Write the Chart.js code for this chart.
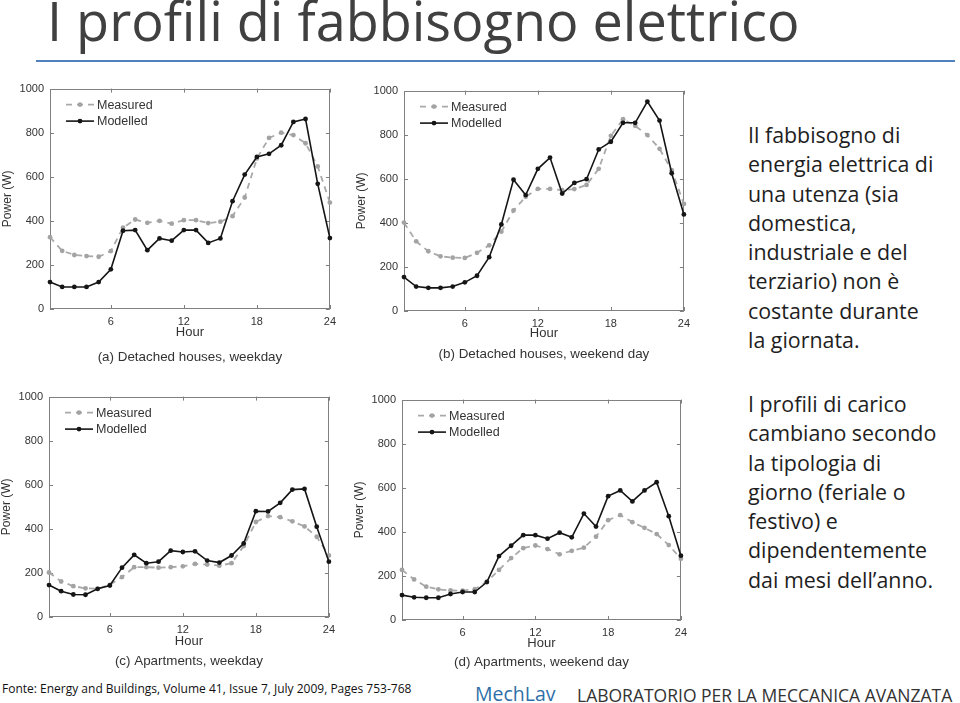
<!DOCTYPE html>
<html lang="it">
<head>
<meta charset="utf-8">
<title>I profili di fabbisogno elettrico</title>
<script src="https://cdn.jsdelivr.net/npm/chart.js@4.4.1/dist/chart.umd.min.js"></script>
<style>
  html, body { margin: 0; padding: 0; background: #fff; }
  body { width: 960px; height: 703px; position: relative; overflow: hidden; font-family: "Open Sans", Lato, sans-serif; font-variant-ligatures: none; }
  .title { position: absolute; left: 47px; top: -12px; font-size: 54px; line-height: 64px; color: #404040; white-space: nowrap; }
  .rule { position: absolute; left: 36px; top: 60px; width: 919px; height: 2px; background: #4f81bd; }
  .side { position: absolute; left: 748px; font-size: 21.4px; line-height: 29.3px; color: #1e1e1e; white-space: nowrap; }
  .fonte { position: absolute; left: 2px; top: 681px; font-size: 12px; line-height: 16px; color: #111; white-space: nowrap; }
  .mech { position: absolute; left: 475px; top: 682px; font-size: 19.5px; line-height: 24px; color: #2f6fa8; }
  .lab { position: absolute; left: 577px; top: 684.5px; font-size: 17.5px; line-height: 21px; color: #333; white-space: nowrap; }
  canvas { position: absolute; }
</style>
</head>
<body>
<div class="title">I profili di fabbisogno elettrico</div>
<div class="rule"></div>

<canvas id="chart-a"></canvas>
<canvas id="chart-b"></canvas>
<canvas id="chart-c"></canvas>
<canvas id="chart-d"></canvas>

<div class="side" style="top:120px">Il fabbisogno di<br>energia elettrica di<br>una utenza (sia<br>domestica,<br>industriale e del<br>terziario) non è<br>costante durante<br>la giornata.</div>
<div class="side" style="top:389px">I profili di carico<br>cambiano secondo<br>la tipologia di<br>giorno (feriale o<br>festivo) e<br>dipendentemente<br>dai mesi dell’anno.</div>

<div class="fonte">Fonte: Energy and Buildings, Volume 41, Issue 7, July 2009, Pages 753-768</div>
<div class="mech">MechLav</div>
<div class="lab">LABORATORIO PER LA MECCANICA AVANZATA</div>

<script>
// hours of the day and axis ticks
const HOURS = [1, 2, 3, 4, 5, 6, 7, 8, 9, 10, 11, 12, 13, 14, 15, 16, 17, 18, 19, 20, 21, 22, 23, 24];
const X_TICKS = [6, 12, 18, 24];
const Y_TICKS = [0, 200, 400, 600, 800, 1000];
const SERIES_NAMES = ['Measured', 'Modelled'];

// (a) Detached houses, weekday
const measuredA = [326, 264, 245, 240, 237, 263, 369, 406, 391, 400, 387, 403, 403, 390, 396, 421, 506, 683, 776, 800, 789, 752, 647, 483];
const modelledA = [122, 100, 100, 100, 122, 180, 355, 358, 267, 320, 310, 358, 358, 300, 320, 489, 610, 690, 704, 743, 849, 862, 568, 322];
// (b) Detached houses, weekend day
const measuredB = [401, 316, 271, 248, 242, 241, 264, 298, 360, 456, 518, 554, 554, 548, 553, 572, 645, 795, 870, 840, 798, 736, 639, 486];
const modelledB = [154, 111, 105, 105, 111, 130, 160, 244, 393, 596, 526, 645, 696, 533, 581, 598, 733, 768, 854, 854, 950, 864, 625, 438];
// (c) Apartments, weekday
const measuredC = [202, 161, 140, 130, 128, 146, 181, 226, 226, 224, 226, 230, 241, 238, 233, 244, 322, 431, 458, 453, 434, 411, 364, 279];
const modelledC = [145, 117, 102, 101, 128, 143, 224, 282, 244, 251, 301, 295, 298, 256, 247, 279, 334, 480, 479, 518, 578, 581, 410, 251];
// (d) Apartments, weekend day
const measuredD = [227, 184, 151, 139, 134, 133, 140, 174, 227, 281, 326, 338, 322, 298, 314, 328, 378, 453, 476, 444, 418, 390, 340, 278];
const modelledD = [113, 103, 101, 101, 118, 127, 127, 172, 290, 337, 385, 385, 369, 396, 375, 483, 424, 562, 588, 538, 588, 625, 471, 292];

const CAPTIONS = [
    '(a) Detached houses, weekday',
    '(b) Detached houses, weekend day',
    '(c) Apartments, weekday',
    '(d) Apartments, weekend day'
];

Chart.defaults.font.family = '"Liberation Sans", Arial, sans-serif';
Chart.defaults.color = '#333';

const CAPTION_SPACE = 18;

// box with inward ticks, legend inside the plot and caption under it (matlab style)
const framePlugin = {
    id: 'frame',
    beforeDatasetsDraw(chart) {
        const { ctx, chartArea: a, scales: { x, y } } = chart;
        const t = 4;
        ctx.save();
        ctx.strokeStyle = '#808080';
        ctx.lineWidth = 1;
        ctx.strokeRect(Math.round(a.left) + 0.5, Math.round(a.top) + 0.5, Math.round(a.width) - 1, Math.round(a.height) - 1);
        ctx.beginPath();
        X_TICKS.forEach(v => {
            const px = Math.round(x.getPixelForValue(v)) + 0.5;
            ctx.moveTo(px, a.bottom); ctx.lineTo(px, a.bottom - t);
            ctx.moveTo(px, a.top); ctx.lineTo(px, a.top + t);
        });
        Y_TICKS.forEach(v => {
            const py = Math.round(y.getPixelForValue(v)) + 0.5;
            ctx.moveTo(a.left, py); ctx.lineTo(a.left + t, py);
            ctx.moveTo(a.right, py); ctx.lineTo(a.right - t, py);
        });
        ctx.stroke();
        ctx.restore();
    },
    afterDraw(chart, args, opts) {
        const { ctx, chartArea: a } = chart;
        ctx.save();
        ctx.font = '12.5px "Liberation Sans", Arial, sans-serif';
        ctx.textBaseline = 'middle';
        chart.data.datasets.forEach((ds, i) => {
            const ly = a.top + 16 + i * 16.5;
            const x0 = a.left + 16, x1 = a.left + 44;
            ctx.strokeStyle = ds.borderColor;
            ctx.lineWidth = ds.borderWidth;
            ctx.setLineDash(ds.borderDash || []);
            ctx.beginPath();
            ctx.moveTo(x0, ly); ctx.lineTo(x1, ly);
            ctx.stroke();
            ctx.setLineDash([]);
            ctx.fillStyle = ds.pointBackgroundColor;
            ctx.beginPath();
            ctx.arc((x0 + x1) / 2, ly, ds.pointRadius, 0, Math.PI * 2);
            ctx.fill();
            ctx.fillStyle = '#333';
            ctx.fillText(ds.label, a.left + 47, ly + 0.5);
        });
        // caption, centred on the plot box
        ctx.font = '13.4px "Liberation Sans", Arial, sans-serif';
        ctx.textAlign = 'center';
        ctx.fillText(opts.caption, (a.left + a.right) / 2, chart.height - CAPTION_SPACE / 2 - 0.5);
        ctx.restore();
    }
};

// plot box positions on the page, plus centre of "Hour" and caption
const GEOM = [
    { l: 50, t: 88, r: 330, b: 309, hour: 332, cap: 358 },
    { l: 404, t: 90, r: 684, b: 311, hour: 333, cap: 355 },
    { l: 49, t: 396, r: 329, b: 617, hour: 641, cap: 662 },
    { l: 402, t: 399, r: 681, b: 620, hour: 643, cap: 663 }
];

function makeChart(id, g, caption, measured, modelled) {
    const canvas = document.getElementById(id);
    const left = g.l - 50, top = g.t - 12;
    const width = g.r - left + 12;
    const height = g.cap + CAPTION_SPACE / 2 - top;
    canvas.width = width;
    canvas.height = height;
    canvas.style.left = left + 'px';
    canvas.style.top = top + 'px';
    const xHeight = g.cap - CAPTION_SPACE / 2 - g.b;
    const hourPad = g.cap - CAPTION_SPACE / 2 - 7.8 - g.hour;

    new Chart(canvas, {
        type: 'line',
        data: {
            datasets: [{
                label: SERIES_NAMES[0],
                data: HOURS.map((h, i) => ({ x: h, y: measured[i] })),
                borderColor: '#a9a9a9',
                borderWidth: 1.8,
                borderDash: [6, 5],
                pointRadius: 2.4,
                pointBackgroundColor: '#a3a3a3',
                pointBorderWidth: 0,
                tension: 0,
                clip: false,
                order: 1
            }, {
                label: SERIES_NAMES[1],
                data: HOURS.map((h, i) => ({ x: h, y: modelled[i] })),
                borderColor: '#151515',
                borderWidth: 1.6,
                pointRadius: 2.4,
                pointBackgroundColor: '#151515',
                pointBorderWidth: 0,
                tension: 0,
                clip: false,
                order: 0
            }]
        },
        options: {
            responsive: false,
            animation: false,
            layout: { padding: { left: 0, top: 12, right: 12, bottom: CAPTION_SPACE } },
            plugins: {
                legend: { display: false },
                tooltip: { enabled: false },
                title: { display: false },
                frame: { caption: caption }
            },
            scales: {
                x: {
                    type: 'linear',
                    min: 1,
                    max: 24,
                    afterBuildTicks: s => { s.ticks = X_TICKS.map(v => ({ value: v })); },
                    afterFit: s => { s.height = xHeight; },
                    grid: { display: false, drawTicks: false },
                    border: { display: false },
                    ticks: { padding: 6, font: { size: 11 }, color: '#333', maxRotation: 0, callback: v => String(v) },
                    title: { display: true, text: 'Hour', color: '#333', font: { size: 13 }, padding: { top: 0, bottom: hourPad } }
                },
                y: {
                    min: 0,
                    max: 1000,
                    afterBuildTicks: s => { s.ticks = Y_TICKS.map(v => ({ value: v })); },
                    afterFit: s => { s.width = 50; },
                    grid: { display: false, drawTicks: false },
                    border: { display: false },
                    ticks: { padding: 6, font: { size: 11 }, color: '#333', callback: v => String(v) },
                    title: { display: true, text: 'Power (W)', color: '#333', font: { size: 12 }, padding: { top: 0, bottom: 0 } }
                }
            }
        },
        plugins: [framePlugin]
    });
}

makeChart('chart-a', GEOM[0], CAPTIONS[0], measuredA, modelledA);
makeChart('chart-b', GEOM[1], CAPTIONS[1], measuredB, modelledB);
makeChart('chart-c', GEOM[2], CAPTIONS[2], measuredC, modelledC);
makeChart('chart-d', GEOM[3], CAPTIONS[3], measuredD, modelledD);
</script>
</body>
</html>
